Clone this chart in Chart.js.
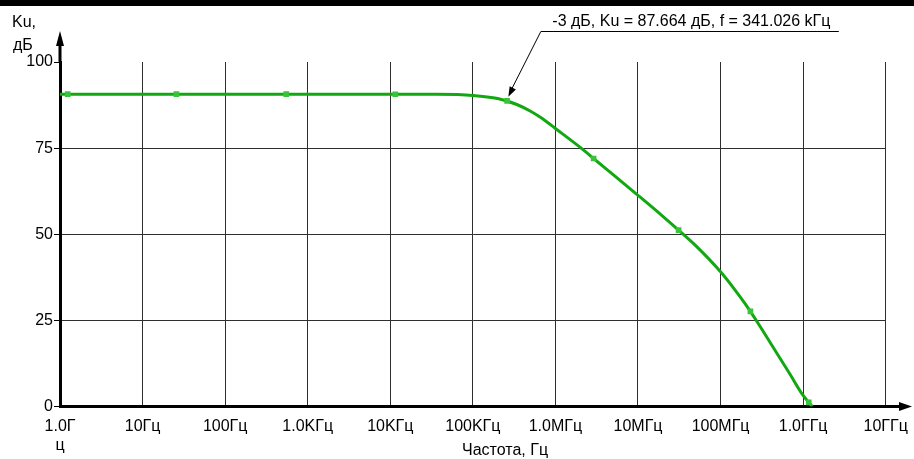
<!DOCTYPE html>
<html><head><meta charset="utf-8">
<script src="https://cdn.jsdelivr.net/npm/chart.js@4/dist/chart.umd.min.js"></script>
<style>html,body{margin:0;padding:0;background:#fff;overflow:hidden}#wrap{width:914px;height:459px;position:relative}</style>
</head><body><div id="wrap"><canvas id="c" width="914" height="459"></canvas></div>
<script>
// ---- data ----
const freqHz = [1, 10, 100, 1e3, 1e4, 3e4, 1e5, 2e5, 3.41e5, 5e5, 7e5, 1e6, 2e6, 3e6, 5e6, 1e7, 2e7, 3e7, 5e7, 1e8, 1.5e8, 2e8, 3e8, 5e8, 7e8, 1e9, 1.29e9];
const gainDb = [90.66, 90.66, 90.66, 90.66, 90.65, 90.62, 90.3, 89.4, 87.66, 85.7, 83.5, 80.7, 75.2, 71.7, 67.3, 61.3, 55.2, 51.5, 46.7, 39.1, 33.8, 29.7, 23.3, 14.8, 9.2, 3.2, 0];
const markerHz = [1.24, 25.7, 550, 11500, 2.6e5, 2.9e6, 3.1e7, 2.3e8, 1.17e9];
const markerDb = [90.66, 90.66, 90.66, 90.65, 88.7, 72.0, 51.2, 27.6, 1.2];
const decadeTicks = [1, 10, 100, 1e3, 1e4, 1e5, 1e6, 1e7, 1e8, 1e9, 1e10];
const decadeLabels = [["1.0Г", "ц"], "10Гц", "100Гц", "1.0KГц", "10KГц", "100KГц", "1.0MГц", "10MГц", "100MГц", "1.0ГГц", "10ГГц"];
const yTicks = [0, 25, 50, 75, 100];
const yTitle = ["Ku,", "дБ"];
const xTitle = "Частота, Гц";
const annotText = "-3 дБ, Ku = 87.664 дБ, f = 341.026 kГц";
const annotHz = 2.69e5;
const annotDb = 89.9;

const FONT = "Liberation Sans, Arial, sans-serif";
const FS = 16;
const curve = freqHz.map((f, i) => ({x: f, y: gainDb[i]}));
const marks = markerHz.map((f, i) => ({x: f, y: markerDb[i]}));

const deco = {
  id: 'deco',
  beforeDraw(chart) {
    const ctx = chart.ctx;
    ctx.save();
    ctx.fillStyle = '#000';
    ctx.fillRect(0, 0, chart.width, 6);
    ctx.restore();
  },
  afterDraw(chart) {
    const ctx = chart.ctx, a = chart.chartArea;
    const xs = chart.scales.x, ys = chart.scales.y;
    ctx.save();
    ctx.fillStyle = '#000'; ctx.strokeStyle = '#000';
    // y axis extension + arrow
    ctx.lineWidth = 3;
    ctx.beginPath(); ctx.moveTo(a.left, a.top); ctx.lineTo(a.left, 44); ctx.stroke();
    ctx.beginPath(); ctx.moveTo(a.left, 31); ctx.lineTo(a.left - 4, 46); ctx.lineTo(a.left + 4, 46); ctx.closePath(); ctx.fill();
    // x axis extension + arrow
    ctx.beginPath(); ctx.moveTo(a.right, a.bottom); ctx.lineTo(901, a.bottom); ctx.stroke();
    ctx.beginPath(); ctx.moveTo(912, a.bottom); ctx.lineTo(899, a.bottom - 4.5); ctx.lineTo(899, a.bottom + 4.5); ctx.closePath(); ctx.fill();
    // titles
    ctx.font = FS + 'px ' + FONT;
    ctx.textBaseline = 'alphabetic';
    ctx.textAlign = 'left';
    ctx.fillText(yTitle[0], 12, 27);
    ctx.fillText(yTitle[1], 13, 50);
    ctx.textAlign = 'center';
    ctx.fillText(xTitle, a.left + (a.right - a.left) * 0.539, 455);
    // annotation
    const tx = xs.getPixelForValue(annotHz), ty = ys.getPixelForValue(annotDb);
    const ex = tx + 32.5, ey = 31;
    ctx.lineWidth = 1;
    ctx.beginPath(); ctx.moveTo(ex + 298, ey + 0.5); ctx.lineTo(ex, ey + 0.5); ctx.lineTo(tx + 2.5, ty - 6); ctx.stroke();
    const ang = Math.atan2(ty - ey, tx - ex);
    ctx.beginPath();
    ctx.moveTo(tx, ty);
    ctx.lineTo(tx - 10 * Math.cos(ang) + 3.5 * Math.sin(ang), ty - 10 * Math.sin(ang) - 3.5 * Math.cos(ang));
    ctx.lineTo(tx - 10 * Math.cos(ang) - 3.5 * Math.sin(ang), ty - 10 * Math.sin(ang) + 3.5 * Math.cos(ang));
    ctx.closePath(); ctx.fill();
    ctx.textAlign = 'left';
    ctx.fillText(annotText, ex + 11.5, ey - 5);
    ctx.restore();
  }
};

new Chart(document.getElementById('c'), {
  type: 'line',
  data: {
    datasets: [
      {data: curve, borderColor: '#12a812', borderWidth: 3, pointRadius: 0, cubicInterpolationMode: 'monotone', fill: false, order: 2},
      {data: marks, showLine: false, pointStyle: 'rect', pointRadius: 4, pointBackgroundColor: '#38c438', pointBorderColor: '#38c438', pointBorderWidth: 0, order: 1}
    ]
  },
  options: {
    responsive: false,
    animation: false,
    devicePixelRatio: 1,
    layout: {padding: {top: 62, right: 28.3, left: 0, bottom: 0}},
    plugins: {legend: {display: false}, tooltip: {enabled: false}},
    scales: {
      x: {
        type: 'logarithmic', min: 1, max: 1e10,
        afterBuildTicks(s) { s.ticks = decadeTicks.map(v => ({value: v})); },
        afterFit(s) { s.height = 52.5; s.paddingLeft = 0; s.paddingRight = 0; },
        ticks: {
          autoSkip: false, maxRotation: 0, minRotation: 0, padding: 10,
          color: '#000', font: {family: FONT, size: FS, lineHeight: 1.2},
          callback(v, i) { return decadeLabels[i]; }
        },
        grid: {color: '#2e2e2e', lineWidth: 1, drawTicks: false},
        border: {color: '#000', width: 3}
      },
      y: {
        min: 0, max: 100,
        afterBuildTicks(s) { s.ticks = yTicks.map(v => ({value: v})); },
        afterFit(s) { s.width = 60; },
        ticks: {color: '#000', font: {family: FONT, size: FS}, padding: 1},
        grid: {
          color: c => (c.tick && c.tick.value === 100) ? 'rgba(0,0,0,0)' : '#2e2e2e',
          tickColor: '#000', tickLength: 6, lineWidth: 1
        },
        border: {color: '#000', width: 3}
      }
    }
  },
  plugins: [deco]
});
</script>
</body></html>
